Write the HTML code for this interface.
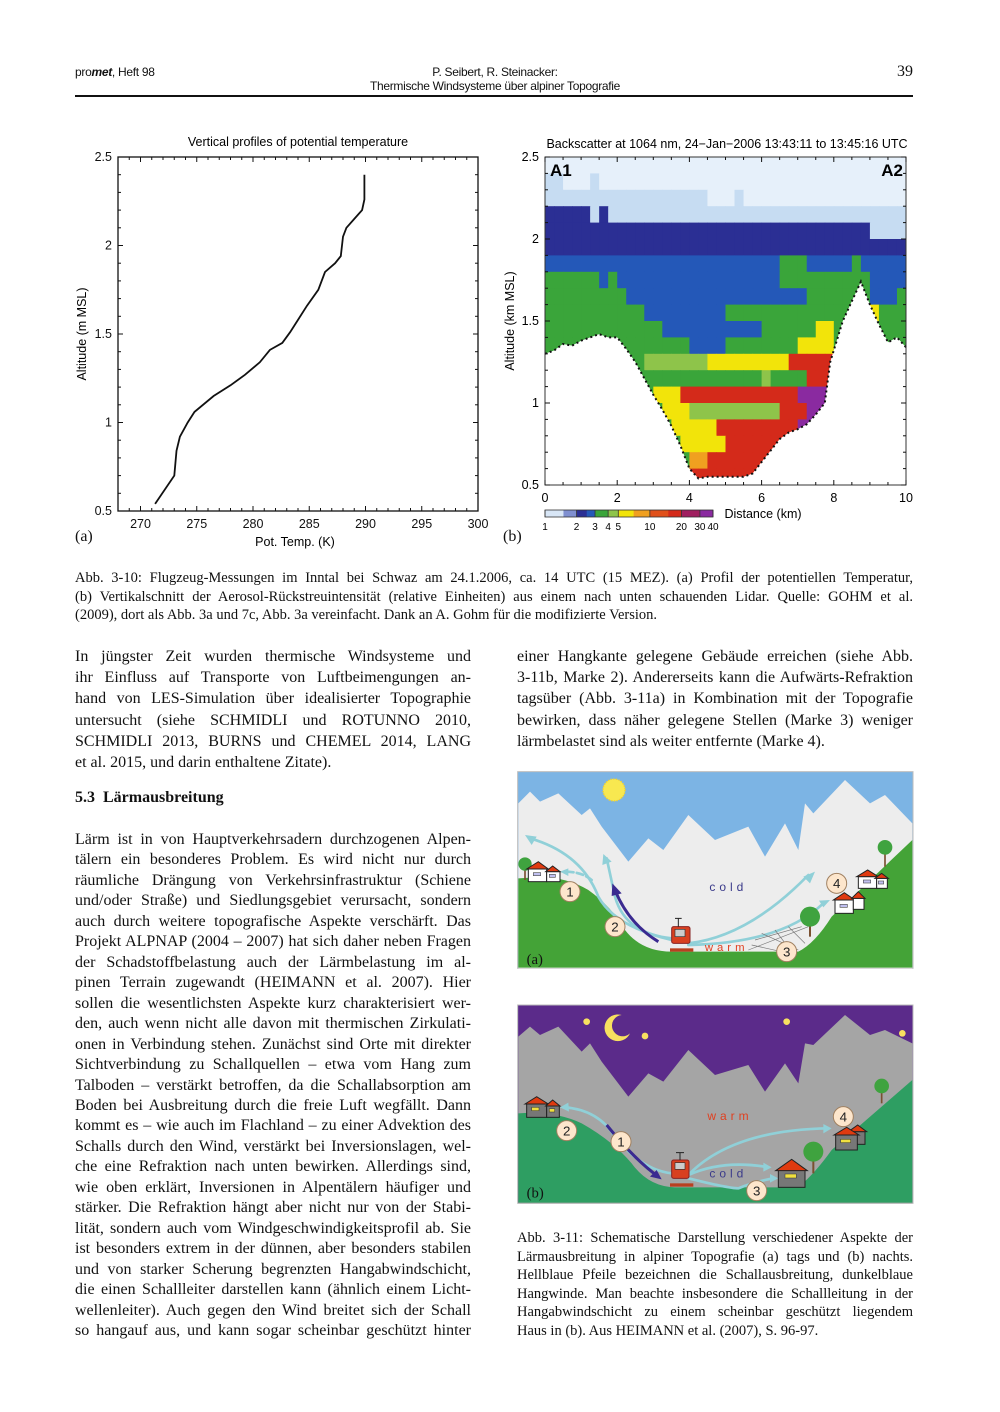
<!DOCTYPE html>
<html><head><meta charset="utf-8">
<style>
html,body{margin:0;padding:0;background:#fff;}
#page{position:relative;width:1000px;height:1412px;overflow:hidden;background:#fff;font-family:"Liberation Serif",serif;color:#111;}
.ln{position:absolute;white-space:nowrap;text-align:justify;text-align-last:justify;}
.ln.last{text-align-last:left;}
.body{font-size:16px;letter-spacing:0px;height:20px;line-height:20px;}
.cap{font-size:14.5px;letter-spacing:0px;height:18px;line-height:18px;}
.sans{font-family:"Liberation Sans",sans-serif;}
svg text{font-family:"Liberation Sans",sans-serif;}
</style></head><body>
<div id="page">
<div class="sans" style="position:absolute;left:75px;top:65px;font-size:12px;letter-spacing:-0.3px;">pro<b><i>met</i></b>, Heft 98</div>
<div class="sans" style="position:absolute;left:295px;width:400px;text-align:center;top:65px;font-size:12px;letter-spacing:-0.3px;">P. Seibert, R. Steinacker:</div>
<div class="sans" style="position:absolute;left:295px;width:400px;text-align:center;top:79px;font-size:12px;letter-spacing:-0.3px;">Thermische Windsysteme über alpiner Topografie</div>
<div style="position:absolute;left:880px;width:33px;text-align:right;top:63px;font-size:16px;">39</div>
<div style="position:absolute;left:75px;top:95px;width:838px;height:2px;background:#111;"></div>

<svg id="profile" style="position:absolute;left:0;top:0" width="500" height="560"></svg>
<svg id="lidar" style="position:absolute;left:0;top:0" width="1000" height="560"></svg>
<div style="position:absolute;left:75px;top:528px;font-size:16px;">(a)</div>
<div style="position:absolute;left:503px;top:528px;font-size:16px;">(b)</div>

<div style="position:absolute;left:75px;top:789px;font-size:16px;font-weight:bold;">5.3&nbsp; Lärmausbreitung</div>

<!-- Illustration a -->
<svg style="position:absolute;left:515px;top:770px" width="400" height="200" viewBox="0 0 1200 600">
<rect x="8" y="5" width="1186" height="590" fill="#7cb4e4" stroke="#bbb" stroke-width="3"/>
<polygon fill="#ededed" points="10,100 45,65 75,95 130,70 200,135 225,115 260,170 340,275 400,205 445,240 520,135 600,210 700,170 750,260 810,160 850,240 870,100 895,130 990,30 1065,100 1110,75 1192,160 1192,595 10,595"/>
<path fill="#44a337" d="M10,325 L60,322 Q150,318 220,360 Q290,410 330,480 Q380,545 470,545 L850,545 Q900,520 950,440 L1192,210 L1192,593 L10,593 Z"/>
<circle cx="297" cy="60" r="33" fill="#f8e850" stroke="#f0d030" stroke-width="4" stroke-dasharray="4,4"/>
<g fill="none" stroke="#90d0d8" stroke-width="8" stroke-linecap="round">
<path d="M470,510 Q300,470 250,380 Q200,250 45,205"/>
<path d="M470,505 Q330,490 300,380 Q285,310 275,265"/>
<path d="M520,520 Q700,500 880,315"/>
<path d="M520,525 Q800,520 925,400"/>
<path d="M230,330 Q200,305 150,305" stroke-dasharray="20,10"/>
</g>
<g fill="#90d0d8"><polygon points="30,195 65,200 50,225"/><polygon points="265,252 290,275 262,285"/><polygon points="900,305 885,340 865,320"/><polygon points="945,390 925,412 912,392"/><polygon points="135,305 160,295 160,318"/></g>
<path d="M430,515 Q340,460 300,360" fill="none" stroke="#3a2a90" stroke-width="9"/>
<polygon points="292,340 320,370 290,378" fill="#3a2a90"/>
<g stroke="#777" stroke-width="2" fill="none"><path d="M700,540 L880,470 M720,510 L860,470 M710,525 L800,545 M740,490 L850,540 M780,480 L830,545 M820,470 L870,520"/></g>
<path d="M885,500 L885,430" stroke="#7a5030" stroke-width="6"/><circle cx="885" cy="440" r="30" fill="#3fa33f"/>
<path d="M1110,290 L1110,240" stroke="#7a5030" stroke-width="5"/><circle cx="1110" cy="232" r="22" fill="#3fa33f"/>
<path d="M30,330 L30,290" stroke="#7a5030" stroke-width="5"/><circle cx="30" cy="282" r="20" fill="#3fa33f"/>
<g stroke="#222" stroke-width="3">
<rect x="40" y="297" width="55" height="38" fill="#fff"/><polygon points="35,297 70,275 100,297" fill="#e03a10"/>
<rect x="95" y="305" width="40" height="30" fill="#fff"/><polygon points="92,305 113,288 135,305" fill="#e03a10"/>
<rect x="1030" y="320" width="55" height="35" fill="#fff"/><polygon points="1025,320 1058,300 1090,320" fill="#e03a10"/>
<rect x="1085" y="325" width="32" height="30" fill="#fff"/><polygon points="1080,325 1100,310 1120,325" fill="#e03a10"/>
<rect x="960" y="390" width="55" height="40" fill="#fff"/><polygon points="955,390 988,368 1020,390" fill="#e03a10"/>
<rect x="1015" y="385" width="32" height="33" fill="#fff"/><polygon points="1010,385 1030,365 1050,385" fill="#e03a10"/>
</g>
<g fill="#c0c0f0" stroke="#555" stroke-width="2"><rect x="55" y="308" width="22" height="9"/><rect x="103" y="313" width="18" height="9"/><rect x="1045" y="330" width="22" height="9"/><rect x="1090" y="333" width="16" height="9"/><rect x="975" y="403" width="22" height="9"/></g>
<g><rect x="470" y="470" width="55" height="50" rx="6" fill="#d84020" stroke="#822" stroke-width="3"/><rect x="480" y="478" width="30" height="22" fill="#ccc" stroke="#333" stroke-width="2"/><path d="M490,470 L490,445 M480,445 L500,445" stroke="#222" stroke-width="3"/><rect x="465" y="535" width="70" height="10" fill="#b84020"/></g>
<g font-size="40" text-anchor="middle" fill="#222">
<circle cx="165" cy="365" r="30" fill="#fde6cc" stroke="#a08060" stroke-width="3"/><text x="165" y="379">1</text>
<circle cx="300" cy="470" r="30" fill="#fde6cc" stroke="#a08060" stroke-width="3"/><text x="300" y="484">2</text>
<circle cx="815" cy="545" r="30" fill="#fde6cc" stroke="#a08060" stroke-width="3"/><text x="815" y="559">3</text>
<circle cx="965" cy="340" r="30" fill="#fde6cc" stroke="#a08060" stroke-width="3"/><text x="965" y="354">4</text>
</g>
<text x="640" y="363" font-size="36" text-anchor="middle" fill="#3a3a8a" letter-spacing="12">cold</text>
<text x="635" y="543" font-size="34" text-anchor="middle" fill="#e04020" letter-spacing="12">warm</text>
<text x="35" y="582" font-size="44" fill="#111" style="font-family:'Liberation Serif',serif">(a)</text>
</svg>

<!-- Illustration b -->
<svg style="position:absolute;left:515px;top:1000px" width="400" height="210" viewBox="0 0 1200 630">
<rect x="8" y="15" width="1186" height="595" fill="#5b2b8a" stroke="#bbb" stroke-width="3"/>
<polygon fill="#a5a5a5" points="10,110 45,80 75,105 130,80 200,155 225,130 260,185 340,290 400,220 445,245 520,150 600,225 700,195 750,275 810,190 850,250 870,130 895,135 990,45 1065,105 1110,90 1192,130 1192,610 10,610"/>
<path fill="#2e9e62" d="M10,340 Q120,332 200,370 Q290,420 350,490 Q400,560 480,562 L850,562 Q900,520 950,450 L1192,240 L1192,608 L10,608 Z"/>
<path d="M320,45 A40,40 0 1 0 345,100 A32,32 0 1 1 320,45 Z" fill="#f8e060"/>
<g fill="#f8e060"><circle cx="215" cy="65" r="10"/><circle cx="390" cy="108" r="10"/><circle cx="815" cy="65" r="10"/><circle cx="1162" cy="100" r="10"/></g>
<g fill="none" stroke="#90d0d8" stroke-width="8" stroke-linecap="round">
<path d="M470,520 Q380,510 300,410 Q250,330 150,322"/>
<path d="M520,525 Q650,390 940,385"/>
<path d="M520,525 Q620,480 750,500"/>
<path d="M520,535 Q640,565 670,565 Q720,545 775,535"/>
</g>
<g fill="#90d0d8"><polygon points="135,322 160,308 162,335"/><polygon points="950,385 925,400 925,372"/><polygon points="770,502 745,515 745,488"/><polygon points="790,535 765,548 765,522"/></g>
<path d="M275,375 Q360,480 430,530" fill="none" stroke="#3a2a90" stroke-width="9"/>
<polygon points="440,538 405,530 425,510" fill="#3a2a90"/>
<path d="M895,520 L895,460" stroke="#7a5030" stroke-width="6"/><circle cx="895" cy="455" r="30" fill="#3fa33f"/>
<path d="M1100,310 L1100,265" stroke="#7a5030" stroke-width="5"/><circle cx="1100" cy="258" r="22" fill="#3fa33f"/>
<g stroke="#222" stroke-width="3">
<rect x="35" y="312" width="60" height="40" fill="#777"/><polygon points="30,312 65,290 100,312" fill="#e03a10"/>
<rect x="95" y="318" width="38" height="34" fill="#777"/><polygon points="92,318 113,300 135,318" fill="#e03a10"/>
<rect x="1005" y="395" width="45" height="38" fill="#777"/><polygon points="1000,395 1028,375 1055,395" fill="#e03a10"/>
<rect x="962" y="405" width="65" height="45" fill="#777"/><polygon points="957,405 995,382 1032,405" fill="#e03a10"/>
<rect x="790" y="510" width="80" height="52" fill="#777"/><polygon points="782,512 830,478 877,512" fill="#e03a10"/>
</g>
<g fill="#f0e040" stroke="#333" stroke-width="1.5"><rect x="50" y="322" width="22" height="10"/><rect x="103" y="326" width="16" height="10"/><rect x="977" y="418" width="30" height="10"/><rect x="810" y="522" width="34" height="12"/></g>
<g><rect x="470" y="480" width="52" height="55" rx="6" fill="#d84020" stroke="#822" stroke-width="3"/><rect x="480" y="488" width="30" height="20" fill="#ccc" stroke="#333" stroke-width="2"/><path d="M495,480 L495,458 M483,458 L507,458" stroke="#222" stroke-width="3"/><rect x="465" y="550" width="70" height="10" fill="#b84020"/></g>
<g font-size="40" text-anchor="middle" fill="#222">
<circle cx="318" cy="425" r="30" fill="#fde6cc" stroke="#a08060" stroke-width="3"/><text x="318" y="439">1</text>
<circle cx="155" cy="392" r="30" fill="#fde6cc" stroke="#a08060" stroke-width="3"/><text x="155" y="406">2</text>
<circle cx="725" cy="572" r="30" fill="#fde6cc" stroke="#a08060" stroke-width="3"/><text x="725" y="586">3</text>
<circle cx="985" cy="350" r="30" fill="#fde6cc" stroke="#a08060" stroke-width="3"/><text x="985" y="364">4</text>
</g>
<text x="645" y="360" font-size="36" text-anchor="middle" fill="#e04020" letter-spacing="12">warm</text>
<text x="640" y="532" font-size="36" text-anchor="middle" fill="#3a3a8a" letter-spacing="12">cold</text>
<text x="35" y="592" font-size="44" fill="#111" style="font-family:'Liberation Serif',serif">(b)</text>
</svg>
</div>

<script>
// ---------- Profile chart data ----------
const profileTemp = [271.3,273.0,273.2,273.5,274.2,274.8,276.5,278.0,279.3,280.6,281.5,282.6,283.3,284.1,284.8,285.8,286.4,287.3,287.8,288.0,288.3,289.0,289.7,289.9,289.9];
const profileAlt  = [0.54,0.70,0.84,0.92,1.00,1.06,1.15,1.21,1.27,1.34,1.41,1.45,1.51,1.59,1.66,1.75,1.85,1.90,1.94,2.05,2.10,2.15,2.20,2.26,2.40];
const profileXTicks = [270,275,280,285,290,295,300];
const profileYTicks = [0.5,1,1.5,2,2.5];

// ---------- Lidar data ----------
const lidarXTicks = [0,2,4,6,8,10];
const lidarYTicks = [0.5,1,1.5,2,2.5];
const terrainDist = [0,0.25,0.5,0.75,1,1.25,1.5,1.75,2,2.25,2.5,2.75,3,3.25,3.5,3.75,4,4.25,4.5,4.75,5,5.25,5.5,5.75,6,6.25,6.5,6.75,7,7.25,7.5,7.75,7.9,8.25,8.5,8.75,9,9.25,9.5,9.75,10];
const terrainAlt  = [1.30,1.32,1.36,1.35,1.38,1.40,1.42,1.40,1.40,1.33,1.25,1.15,1.05,0.96,0.86,0.74,0.60,0.54,0.55,0.55,0.55,0.55,0.55,0.57,0.64,0.71,0.78,0.82,0.84,0.87,0.93,1.00,1.25,1.50,1.62,1.74,1.60,1.48,1.37,1.40,1.34];
const backscatterRows = [
"0000000000000000000000000000000000000000",
"1100010000000000000000000000000000000000",
"1111111111111111110001000000000000000000",
"2222212111111111111111111111111111111111",
"2222222222222222222222222222222222221111",
"2222222222222222222222222222222222222222",
"3333333333333333333333333344433333433333",
"4444443433333333333333333344444444443333",
"4444444443333333333333333333344444443334",
"4444444444433333333344444444444444446444",
"4444444444444333333333334444446644444444",
"4444444444444444333344444444666644444444",
"4444444444455555556666666668888844444444",
"4444444444444444444444445444488888884444",
"4444444444446668888888888888999999994444",
"4444444444444666555555555588899999994444",
"4444444444444466666888888888999999884444",
"4444444444444446666688888888888888444444",
"4444444444444444778888888888888444444444",
"4444444444444444888888888888444444444444"];
const classColors = ["#e6f0fa","#c6dcf2","#2b2f94","#2458b8","#3aa53a","#8ec44a","#f2e40a","#f0a020","#d42a1a","#8a2aa0"];
const colorbarLevels = [1,1.5,2,2.5,3,4,5,7,10,15,20,30,40];
const colorbarColors = ["#d8e6f6","#7f8fd0","#2b2f94","#2458b8","#3aa53a","#8ec44a","#f2e40a","#f0a020","#e0501a","#d42a1a","#a02060","#8a2aa0"];
const colorbarTicks = [1,2,3,4,5,10,20,30,40];

const NS="http://www.w3.org/2000/svg";
function mk(parent,tag,attrs){const e=document.createElementNS(NS,tag);for(const k in attrs)e.setAttribute(k,attrs[k]);parent.appendChild(e);return e;}

(function(){
const svg=document.getElementById('profile');
const X0=118,X1=478,Y0=511,Y1=157,TMIN=268,TMAX=300,AMIN=0.5,AMAX=2.5;
const xs=t=>X0+(t-TMIN)/(TMAX-TMIN)*(X1-X0);
const ys=a=>Y0-(a-AMIN)/(AMAX-AMIN)*(Y0-Y1);
const frame=mk(svg,'rect',{x:X0,y:Y1,width:X1-X0,height:Y0-Y1,fill:'none',stroke:'#111','stroke-width':1.3});


for(let t=TMIN;t<=TMAX;t++){const L=(t%5===0)?5:3;
mk(svg,'line',{x1:xs(t),x2:xs(t),y1:Y0,y2:Y0-L,stroke:'#111','stroke-width':1});
mk(svg,'line',{x1:xs(t),x2:xs(t),y1:Y1,y2:Y1+L,stroke:'#111','stroke-width':1});}
for(let i=0;i<=20;i++){const a=AMIN+i*0.1;const L=(i%5===0)?5:3;
mk(svg,'line',{x1:X0,x2:X0+L,y1:ys(a),y2:ys(a),stroke:'#111','stroke-width':1});
mk(svg,'line',{x1:X1,x2:X1-L,y1:ys(a),y2:ys(a),stroke:'#111','stroke-width':1});}
profileXTicks.forEach(t=>{const tx=mk(svg,'text',{x:xs(t),y:Y0+17,'font-size':12.5,'text-anchor':'middle',fill:'#111'});tx.textContent=t;

});
profileYTicks.forEach(a=>{const tx=mk(svg,'text',{x:X0-6,y:ys(a)+4,'font-size':12.5,'text-anchor':'end',fill:'#111'});tx.textContent=a;

});
let d='';profileTemp.forEach((t,i)=>{d+=(i?'L':'M')+xs(t).toFixed(1)+','+ys(profileAlt[i]).toFixed(1);});
const p=mk(svg,'path',{d:d,fill:'none',stroke:'#111','stroke-width':1.8});


const ti=mk(svg,'text',{x:298,y:146,'font-size':12.5,'text-anchor':'middle'});ti.textContent='Vertical profiles of potential temperature';


const xl=mk(svg,'text',{x:295,y:546,'font-size':12.5,'text-anchor':'middle'});xl.textContent='Pot. Temp. (K)';


const yl=mk(svg,'text',{x:0,y:0,'font-size':12.5,'text-anchor':'middle',transform:'translate(86,334) rotate(-90)'});yl.textContent='Altitude (m MSL)';


})();

(function(){
const svg=document.getElementById('lidar');
const X0=545,X1=906,Y0=485,Y1=157,DMIN=0,DMAX=10,AMIN=0.5,AMAX=2.5;
const xs=v=>X0+(v-DMIN)/(DMAX-DMIN)*(X1-X0);
const ys=a=>Y0-(a-AMIN)/(AMAX-AMIN)*(Y0-Y1);
const nr=backscatterRows.length,nc=backscatterRows[0].length;
const dw=(DMAX-DMIN)/nc,dh=(AMAX-AMIN)/nr;
for(let r=0;r<nr;r++){for(let c=0;c<nc;c++){
const cls=+backscatterRows[r][c];
const aTop=AMAX-r*dh,d0=DMIN+c*dw;
const cell=mk(svg,'rect',{x:xs(d0),y:ys(aTop),width:xs(d0+dw)-xs(d0)+0.5,height:ys(aTop-dh)-ys(aTop)+0.5,fill:classColors[cls]});

}}
let d='M'+xs(terrainDist[0])+','+ys(AMIN);
terrainDist.forEach((v,i)=>{d+='L'+xs(v).toFixed(1)+','+ys(terrainAlt[i]).toFixed(1);});
d+='L'+xs(terrainDist[terrainDist.length-1])+','+ys(AMIN)+'Z';
const terr=mk(svg,'path',{d:d,fill:'#fff'});


let d2='';terrainDist.forEach((v,i)=>{d2+=(i?'L':'M')+xs(v).toFixed(1)+','+ys(terrainAlt[i]).toFixed(1);});
const edge=mk(svg,'path',{d:d2,fill:'none',stroke:'#111','stroke-width':2,'stroke-dasharray':'2,3'});


const frame=mk(svg,'rect',{x:X0,y:Y1,width:X1-X0,height:Y0-Y1,fill:'none',stroke:'#333','stroke-width':1});


for(let i=0;i<=20;i++){const v=i*0.5;const L=(i%4===0)?5:3;
mk(svg,'line',{x1:xs(v),x2:xs(v),y1:Y0,y2:Y0-L,stroke:'#111'});mk(svg,'line',{x1:xs(v),x2:xs(v),y1:Y1,y2:Y1+L,stroke:'#111'});}
for(let i=0;i<=20;i++){const a=AMIN+i*0.1;const L=(i%5===0)?5:3;
mk(svg,'line',{x1:X0,x2:X0+L,y1:ys(a),y2:ys(a),stroke:'#111'});mk(svg,'line',{x1:X1,x2:X1-L,y1:ys(a),y2:ys(a),stroke:'#111'});}
lidarXTicks.forEach(v=>{const tx=mk(svg,'text',{x:xs(v),y:Y0+17,'font-size':12.5,'text-anchor':'middle'});tx.textContent=v;

});
lidarYTicks.forEach(a=>{const tx=mk(svg,'text',{x:X0-6,y:ys(a)+4,'font-size':12.5,'text-anchor':'end'});tx.textContent=a;

});
const a1=mk(svg,'text',{x:550,y:176,'font-size':17,'font-weight':'bold'});a1.textContent='A1';


const a2=mk(svg,'text',{x:903,y:176,'font-size':17,'font-weight':'bold','text-anchor':'end'});a2.textContent='A2';


const ti=mk(svg,'text',{x:727,y:148,'font-size':12.5,'text-anchor':'middle'});ti.textContent='Backscatter at 1064 nm, 24\u2212Jan\u22122006 13:43:11 to 13:45:16 UTC';


const xl=mk(svg,'text',{x:763,y:518,'font-size':12.5,'text-anchor':'middle'});xl.textContent='Distance (km)';


const yl=mk(svg,'text',{x:0,y:0,'font-size':12.5,'text-anchor':'middle',transform:'translate(514,321) rotate(-90)'});yl.textContent='Altitude (km MSL)';


const CB0=545,CB1=713,CBY=510,CBH=7,lmax=Math.log(40);
const cx=v=>CB0+Math.log(v)/lmax*(CB1-CB0);
for(let i=0;i<colorbarColors.length;i++){
const seg=mk(svg,'rect',{x:cx(colorbarLevels[i]),y:CBY,width:cx(colorbarLevels[i+1])-cx(colorbarLevels[i])+0.3,height:CBH,fill:colorbarColors[i]});

}
mk(svg,'rect',{x:CB0,y:CBY,width:CB1-CB0,height:CBH,fill:'none',stroke:'#333','stroke-width':0.8});
colorbarTicks.forEach(v=>{mk(svg,'line',{x1:cx(v),x2:cx(v),y1:CBY,y2:CBY+CBH,stroke:'#333','stroke-width':0.8});
const tx=mk(svg,'text',{x:cx(v),y:CBY+20,'font-size':10,'text-anchor':'middle'});tx.textContent=v;

});
})();

const cap310 = ["Abb. 3-10: Flugzeug-Messungen im Inntal bei Schwaz am 24.1.2006, ca. 14 UTC (15 MEZ). (a) Profil der potentiellen Temperatur,",
"(b) Vertikalschnitt der Aerosol-Rückstreuintensität (relative Einheiten) aus einem nach unten schauenden Lidar. Quelle: GOHM et al.",
"(2009), dort als Abb. 3a und 7c, Abb. 3a vereinfacht. Dank an A. Gohm für die modifizierte Version."];
const para1 = ["In jüngster Zeit wurden thermische Windsysteme und","ihr Einfluss auf Transporte von Luftbeimengungen an-","hand von LES-Simulation über idealisierter Topographie","untersucht (siehe SCHMIDLI und ROTUNNO 2010,","SCHMIDLI 2013, BURNS und CHEMEL 2014, LANG","et al. 2015, und darin enthaltene Zitate)."];
const para2 = ["Lärm ist in von Hauptverkehrsadern durchzogenen Alpen-","tälern ein besonderes Problem. Es wird nicht nur durch","räumliche Drängung von Verkehrsinfrastruktur (Schiene","und/oder Straße) und Siedlungsgebiet verursacht, sondern","auch durch weitere topografische Aspekte verschärft. Das","Projekt ALPNAP (2004 – 2007) hat sich daher neben Fragen","der Schadstoffbelastung auch der Lärmbelastung im al-","pinen Terrain zugewandt (HEIMANN et al. 2007). Hier","sollen die wesentlichsten Aspekte kurz charakterisiert wer-","den, auch wenn nicht alle davon mit thermischen Zirkulati-","onen in Verbindung stehen. Zunächst sind Orte mit direkter","Sichtverbindung zu Schallquellen – etwa vom Hang zum","Talboden – verstärkt betroffen, da die Schallabsorption am","Boden bei Ausbreitung durch die freie Luft wegfällt. Dann","kommt es – wie auch im Flachland – zu einer Advektion des","Schalls durch den Wind, verstärkt bei Inversionslagen, wel-","che eine Refraktion nach unten bewirken. Allerdings sind,","wie oben erklärt, Inversionen in Alpentälern häufiger und","stärker. Die Refraktion hängt aber nicht nur von der Stabi-","lität, sondern auch vom Windgeschwindigkeitsprofil ab. Sie","ist besonders extrem in der dünnen, aber besonders stabilen","und von starker Scherung begrenzten Hangabwindschicht,","die einen Schallleiter darstellen kann (ähnlich einem Licht-","wellenleiter). Auch gegen den Wind breitet sich der Schall","so hangauf aus, und kann sogar scheinbar geschützt hinter"];
const para3 = ["einer Hangkante gelegene Gebäude erreichen (siehe Abb.","3-11b, Marke 2). Andererseits kann die Aufwärts-Refraktion","tagsüber (Abb. 3-11a) in Kombination mit der Topografie","bewirken, dass näher gelegene Stellen (Marke 3) weniger","lärmbelastet sind als weiter entfernte (Marke 4)."];
const cap311 = ["Abb. 3-11: Schematische Darstellung verschiedener Aspekte der","Lärmausbreitung in alpiner Topografie (a) tags und (b) nachts.","Hellblaue Pfeile bezeichnen die Schallausbreitung, dunkelblaue","Hangwinde. Man beachte insbesondere die Schallleitung in der","Hangabwindschicht zu einem scheinbar geschützt liegendem","Haus in (b). Aus HEIMANN et al. (2007), S. 96-97."];
const page=document.getElementById('page');
function addBlock(lines,left,width,firstCenter,step,cls,name,lastJust){
lines.forEach((s,i)=>{const el=document.createElement('div');
el.className='ln '+cls+((i===lines.length-1&&!lastJust)?' last':'');
el.style.left=left+'px';el.style.width=width+'px';
const h=(cls==='body')?20:18;
el.style.top=(firstCenter+i*step-h/2)+'px';
el.textContent=s;


page.appendChild(el);});}
addBlock(cap310,75,838,578,18.6,'cap','figure-caption-3-10-line',false);
addBlock(para1,75,396,657,21.2,'body','paragraph-intro-line',false);
addBlock(para2,75,396,840,20.46,'body','paragraph-noise-line',true);
addBlock(para3,517,396,657,21.2,'body','paragraph-right-line',false);
addBlock(cap311,517,396,1238,18.6,'cap','figure-caption-3-11-line',false);
</script>
</body></html>
